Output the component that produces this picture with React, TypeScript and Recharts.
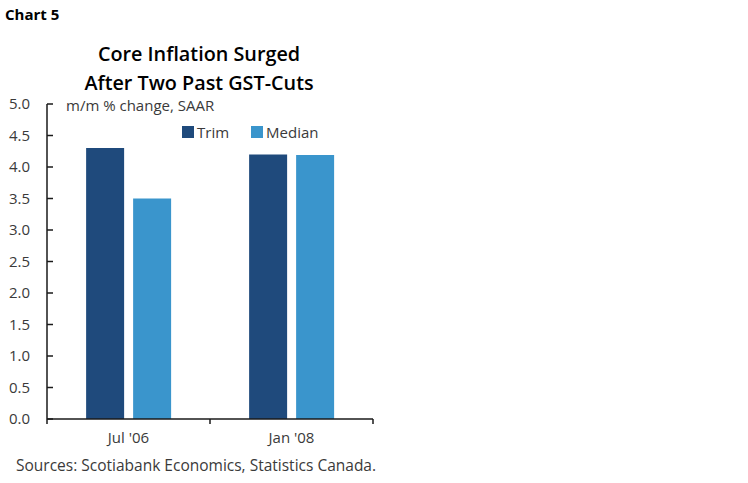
import React from "react";
import { BarChart, Bar, XAxis, YAxis } from "recharts";

const categories = ["Jul '06", "Jan '08"];
const trimValues = [4.3, 4.2];
const medianValues = [3.5, 4.19];
const yTicks = [0, 0.5, 1, 1.5, 2, 2.5, 3, 3.5, 4, 4.5, 5];
const seriesNames = ["Trim", "Median"];
const seriesColors = ["#1F4A7C", "#3A95CC"];

const data = categories.map((c, i) => ({ name: c, Trim: trimValues[i], Median: medianValues[i] }));

const W = 748;
const H = 483;
const PLOT_LEFT = 47;
const PLOT_RIGHT = 373;
const PLOT_TOP = 104;
const PLOT_BOTTOM = 419;
const Y_AXIS_W = 40;
const X_AXIS_H = 30;
const FONT = "'Open Sans', sans-serif";
const TEXT = "#3a3a3a";
const AXIS = "#1a1a1a";
const bandW = (PLOT_RIGHT - PLOT_LEFT) / categories.length;

const YTick = (props: any) => {
  const { x, y, payload } = props;
  const ax = x + 16;
  return (
    <g>
      <line x1={ax} x2={ax + 6} y1={y} y2={y} stroke={AXIS} strokeWidth={1.5} />
      <text x={x - 1} y={y} dy={5} textAnchor="end" fontSize={15} fill={TEXT} fontFamily={FONT}>
        {Number(payload.value).toFixed(1)}
      </text>
    </g>
  );
};

const XTick = (props: any) => {
  const { x, y, payload, index } = props;
  return (
    <g>
      {index === 0 && <line x1={x - bandW / 2} x2={x - bandW / 2} y1={y} y2={y + 5} stroke={AXIS} strokeWidth={1.5} />}
      <line x1={x + bandW / 2} x2={x + bandW / 2} y1={y} y2={y + 5} stroke={AXIS} strokeWidth={1.5} />
      <text x={x} y={y + 24} textAnchor="middle" fontSize={15} fill={TEXT} fontFamily={FONT}>
        {payload.value}
      </text>
    </g>
  );
};

export default function App() {
  return (
    <div style={{ position: "absolute", left: 0, top: 0, width: W, height: H, background: "#fff", fontFamily: FONT }}>
      <div style={{ position: "absolute", left: 5, top: 4, fontSize: 15, fontWeight: 700, fontFamily: FONT, color: "#000" }}>
        Chart 5
      </div>
      <div
        style={{
          position: "absolute",
          left: 0,
          top: 39,
          width: 398,
          textAlign: "center",
          fontSize: 19.8,
          lineHeight: "29px",
          fontWeight: 600,
          fontFamily: FONT,
          color: "#000",
        }}
      >
        Core Inflation Surged
        <br />
        After Two Past GST-Cuts
      </div>
      <div style={{ position: "absolute", left: 66, top: 95, fontSize: 15, color: TEXT, fontFamily: FONT }}>
        m/m % change, SAAR
      </div>
      <div style={{ position: "absolute", left: 182, top: 122, display: "flex", alignItems: "center", fontSize: 15, color: TEXT, fontFamily: FONT }}>
        {seriesNames.map((n, i) => (
          <div key={n} style={{ display: "flex", alignItems: "center", marginRight: 22 }}>
            <span style={{ display: "inline-block", width: 12, height: 12, background: seriesColors[i], marginRight: 3 }} />
            <span>{n}</span>
          </div>
        ))}
      </div>
      <div style={{ position: "absolute", left: 16, top: 454, fontSize: 15.5, color: TEXT, fontFamily: FONT }}>
        Sources: Scotiabank Economics, Statistics Canada.
      </div>
      <div style={{ position: "absolute", left: 0, top: 0 }}>
        <BarChart
          width={W}
          height={H}
          data={data}
          margin={{ top: PLOT_TOP, right: W - PLOT_RIGHT, bottom: H - PLOT_BOTTOM - X_AXIS_H, left: PLOT_LEFT - Y_AXIS_W }}
          barCategoryGap="24%"
          barGap={9}
        >
          <XAxis
            dataKey="name"
            height={X_AXIS_H}
            axisLine={{ stroke: AXIS, strokeWidth: 1.5 }}
            tickLine={false}
            tickSize={0}
            tickMargin={0}
            tick={<XTick />}
            interval={0}
          />
          <YAxis
            width={Y_AXIS_W}
            domain={[0, 5]}
            ticks={yTicks}
            interval={0}
            axisLine={{ stroke: AXIS, strokeWidth: 1.5 }}
            tickLine={false}
            tickSize={0}
            tickMargin={16}
            tick={<YTick />}
          />
          <Bar dataKey="Trim" fill={seriesColors[0]} isAnimationActive={false} />
          <Bar dataKey="Median" fill={seriesColors[1]} isAnimationActive={false} />
        </BarChart>
      </div>
    </div>
  );
}
